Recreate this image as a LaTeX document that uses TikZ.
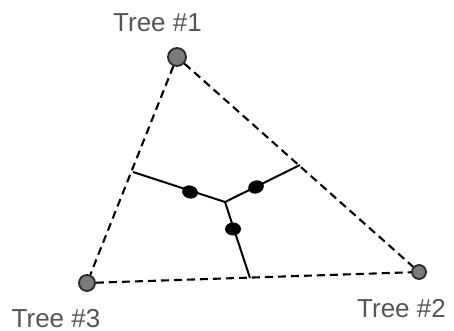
\documentclass[tikz,border=0pt]{standalone}
\usepackage{fontspec}
\setmainfont{Liberation Sans}
\definecolor{labelgray}{HTML}{555555}
\definecolor{treefill}{HTML}{7A7A7A}
\definecolor{treeedge}{HTML}{2A2A2A}
\tikzset{
  treept/.style={circle,draw=treeedge,fill=treefill,line width=1.8pt,inner sep=0pt},
  lbl/.style={text=labelgray,inner sep=0pt,anchor=base,font=\fontsize{26}{28}\selectfont},
  edge/.style={dashed,dash pattern=on 8pt off 5pt,line width=2.1pt,black},
  branch/.style={line width=2pt,black},
  dot/.style={ellipse,fill=black,minimum width=16pt,minimum height=13pt,inner sep=0pt}
}
\usetikzlibrary{shapes.geometric}
\begin{document}
\begin{tikzpicture}[x=1pt,y=-1pt]
\useasboundingbox (0,0) rectangle (454,331);
% tree points
\node[treept,minimum size=18pt] (t1) at (177,57) {};
\node[treept,minimum size=16pt] (t3) at (87,283) {};
\node[treept,minimum size=14pt] (t2) at (419,272) {};
% labels
\node[lbl] (l1) at (157.5,32) {Tree \#1};
\node[lbl] (l3) at (56,327) {Tree \#3};
\node[lbl] (l2) at (401.5,317) {Tree \#2};
% dashed triangle
\draw[edge] (t1) -- (t3);
\draw[edge] (t1) -- (t2);
\draw[edge] (t3) -- (t2);
% inner tree
\coordinate (a) at (133,172);
\coordinate (b) at (300,165);
\coordinate (c) at (250,278);
\coordinate (m) at (225,202);
\draw[branch] (a) -- (m) -- (b);
\draw[branch] (m) -- (c);
\node[dot,rotate=-15] (d1) at (190,192) {};
\node[dot,rotate=20] (d2) at (256,187) {};
\node[dot] (d3) at (233,229) {};
\end{tikzpicture}
\end{document}
